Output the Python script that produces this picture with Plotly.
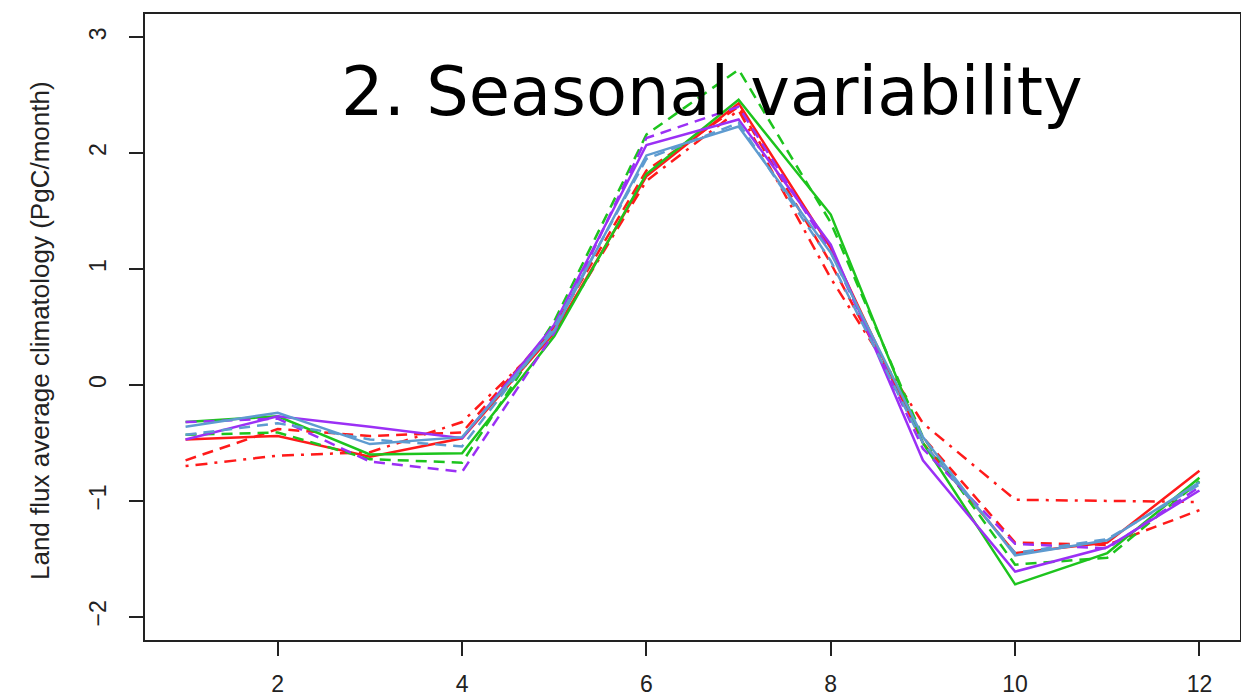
import plotly.graph_objects as go

months = list(range(1, 13))

red_solid = [-0.47, -0.44, -0.62, -0.46, 0.45, 1.80, 2.43, 1.18, -0.50, -1.45, -1.36, -0.74]
red_dashed = [-0.65, -0.38, -0.44, -0.41, 0.50, 1.85, 2.40, 1.05, -0.45, -1.36, -1.38, -1.08]
red_dotdash = [-0.70, -0.61, -0.58, -0.32, 0.45, 1.76, 2.37, 0.92, -0.33, -0.99, -1.00, -1.01]
green_solid = [-0.32, -0.27, -0.60, -0.59, 0.42, 1.82, 2.46, 1.47, -0.50, -1.72, -1.45, -0.80]
green_dashed = [-0.43, -0.41, -0.64, -0.67, 0.55, 2.16, 2.72, 1.40, -0.45, -1.55, -1.49, -0.83]
purple_solid = [-0.47, -0.27, -0.36, -0.46, 0.52, 2.07, 2.29, 1.21, -0.65, -1.61, -1.40, -0.91]
purple_dashed = [-0.32, -0.29, -0.66, -0.75, 0.45, 2.13, 2.40, 1.15, -0.55, -1.37, -1.41, -0.88]
blue_solid = [-0.36, -0.24, -0.51, -0.45, 0.47, 1.98, 2.23, 1.14, -0.45, -1.47, -1.34, -0.84]
blue_dashed = [-0.43, -0.33, -0.47, -0.53, 0.50, 1.95, 2.26, 1.07, -0.50, -1.45, -1.33, -0.86]

x_ticks = [2, 4, 6, 8, 10, 12]
y_ticks = [-2, -1, 0, 1, 2, 3]
y_tick_text = ["\u22122", "\u22121", "0", "1", "2", "3"]

RED = "#FF1A1A"
GREEN = "#1DC41D"
PURPLE = "#9B30F5"
BLUE = "#5E9BD0"
DASH = "11px,7px"
DOTDASH = "3px,7px,12px,7px"

series = [
    ("red solid", red_solid, RED, "solid"),
    ("red dashed", red_dashed, RED, DASH),
    ("red dotdash", red_dotdash, RED, DOTDASH),
    ("green solid", green_solid, GREEN, "solid"),
    ("green dashed", green_dashed, GREEN, DASH),
    ("purple solid", purple_solid, PURPLE, "solid"),
    ("purple dashed", purple_dashed, PURPLE, DASH),
    ("blue solid", blue_solid, BLUE, "solid"),
    ("blue dashed", blue_dashed, BLUE, DASH),
]

fig = go.Figure()
for name, vals, color, dash in series:
    fig.add_trace(go.Scatter(x=months, y=vals, mode="lines", name=name,
                             line=dict(color=color, width=2.5, dash=dash)))

axis_font = dict(family="Liberation Sans, Arial, sans-serif", size=23, color="#222222")

# The page body adds an 8px offset, so the figure is 8px smaller than the window
fig.update_layout(
    width=1241, height=692,
    margin=dict(l=137, r=9, t=6, b=60, autoexpand=False),
    paper_bgcolor="white", plot_bgcolor="white",
    showlegend=False,
    xaxis=dict(range=[0.56, 12.44], tickvals=x_ticks, ticks="outside", ticklen=14,
               tickwidth=1.5, tickcolor="#222222", showgrid=False, zeroline=False,
               showline=True, linecolor="#222222", linewidth=2, mirror=True,
               tickfont=axis_font, ticklabelstandoff=8, automargin=False),
    yaxis=dict(range=[-2.2, 3.2], tickvals=y_ticks, ticktext=y_tick_text,
               ticks="outside", ticklen=14, tickangle=-90,
               tickwidth=1.5, tickcolor="#222222", showgrid=False, zeroline=False,
               showline=True, linecolor="#222222", linewidth=2, mirror=True,
               tickfont=axis_font, ticklabelstandoff=14, automargin=False),
    annotations=[
        dict(text="Land flux average climatology (PgC/month)", textangle=-90,
             xref="paper", yref="paper", x=-0.096, y=0.495, xanchor="center", yanchor="middle",
             showarrow=False, font=dict(family="Liberation Sans, Arial, sans-serif", size=26, color="#222222")),
        dict(text="2. Seasonal variability", xref="paper", yref="paper",
             x=0.518, y=0.875, xanchor="center", yanchor="middle", showarrow=False,
             font=dict(family="DejaVu Sans, Verdana, sans-serif", size=67, color="black")),
    ],
)

fig.write_html("out.html")
